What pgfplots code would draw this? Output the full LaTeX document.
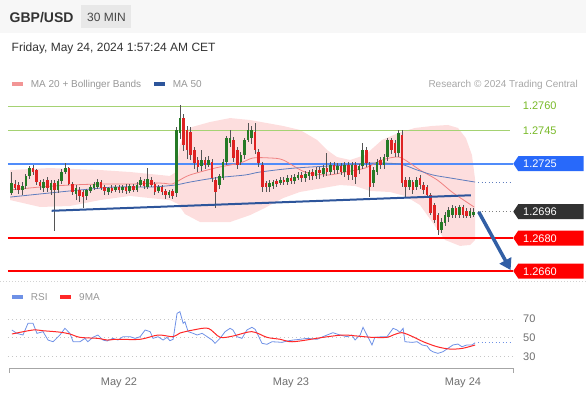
\documentclass[border=0pt]{standalone}
\usepackage{fontspec}
\setmainfont{Liberation Sans}
\usepackage{pgfplots}
\usepackage{pgfplotstable}
\pgfplotsset{compat=1.18}
\usetikzlibrary{arrows.meta}

\definecolor{candgreen}{RGB}{38,122,38}
\definecolor{candred}{RGB}{222,35,35}
\definecolor{wick}{RGB}{85,85,85}
\definecolor{bbfill}{RGB}{253,222,222}
\definecolor{ma20}{RGB}{240,130,130}
\definecolor{ma50}{RGB}{95,125,190}
\definecolor{trend}{RGB}{45,85,155}
\definecolor{arrowc}{RGB}{50,95,165}
\definecolor{lvlgreen}{RGB}{165,210,115}
\definecolor{lvlgreentxt}{RGB}{120,185,40}
\definecolor{lvlblue}{RGB}{80,140,250}
\definecolor{boxblue}{RGB}{40,105,250}
\definecolor{boxdark}{RGB}{50,50,50}
\definecolor{lvlred}{RGB}{255,0,0}
\definecolor{rsiblue}{RGB}{110,145,230}
\definecolor{rsired}{RGB}{255,40,40}
\definecolor{txtdark}{RGB}{51,51,51}
\definecolor{txtgray}{RGB}{150,150,150}
\definecolor{hdrbg}{RGB}{247,247,247}
\definecolor{tagbg}{RGB}{232,232,232}
\definecolor{ticktxt}{RGB}{110,110,110}

\newcommand{\lvlfont}{\fontsize{11}{13}\selectfont}
\newcommand{\lvlbox}[3]{%
  \fill[#1] (513.3pt,#2pt) -- ++(5pt,7.5pt) -- ++(65.2pt,0pt) -- ++(0pt,-15pt) -- ++(-65.2pt,0pt) -- cycle;
  \node[anchor=base west, inner sep=0pt, text=white, font=\lvlfont] at (523pt,#2pt-4pt) {#3};}

\pgfplotstableread{
i o h l c
-30 1.27073 1.27200 1.27061 1.27133
-29 1.27127 1.27152 1.27091 1.27103
-28 1.27121 1.27139 1.27067 1.27091
-27 1.27091 1.27140 1.27060 1.27115
-26 1.27115 1.27190 1.27100 1.27176
-25 1.27176 1.27240 1.27160 1.27224
-24 1.27224 1.27245 1.27180 1.27200
-23 1.27212 1.27220 1.27120 1.27140
-22 1.27140 1.27150 1.27090 1.27115
-21 1.27103 1.27160 1.27080 1.27140
-20 1.27150 1.27170 1.27080 1.27103
-19 1.27090 1.27150 1.27060 1.27133
-18 1.27133 1.27150 1.26842 1.27090
-17 1.27090 1.27160 1.27070 1.27145
-16 1.27145 1.27220 1.27130 1.27200
-15 1.27200 1.27255 1.27190 1.27224
-14 1.27224 1.27230 1.27120 1.27127
-13 1.27127 1.27140 1.27060 1.27079
-12 1.27067 1.27120 1.27030 1.27103
-11 1.27091 1.27110 1.27020 1.27055
-10 1.27079 1.27090 1.26982 1.27048
-9 1.27055 1.27100 1.27030 1.27091
-8 1.27085 1.27120 1.27070 1.27109
-7 1.27103 1.27140 1.27090 1.27127
-6 1.27109 1.27160 1.27100 1.27139
-5 1.27139 1.27150 1.27090 1.27103
-4 1.27109 1.27120 1.27060 1.27085
-3 1.27079 1.27110 1.27060 1.27103
-2 1.27103 1.27120 1.27070 1.27085
-1 1.27091 1.27120 1.27080 1.27109
0 1.27109 1.27120 1.27070 1.27091
1 1.27091 1.27120 1.27070 1.27109
2 1.27109 1.27125 1.27070 1.27085
3 1.27085 1.27130 1.27070 1.27115
4 1.27115 1.27130 1.27080 1.27091
5 1.27091 1.27140 1.27080 1.27121
6 1.27121 1.27170 1.27110 1.27152
7 1.27145 1.27160 1.27100 1.27115
8 1.27109 1.27224 1.27100 1.27158
9 1.27152 1.27170 1.27110 1.27121
10 1.27127 1.27140 1.27060 1.27079
11 1.27085 1.27120 1.27070 1.27109
12 1.27109 1.27120 1.27060 1.27079
13 1.27085 1.27100 1.27040 1.27061
14 1.27061 1.27090 1.27040 1.27079
15 1.27085 1.27100 1.27035 1.27055
16 1.27073 1.27470 1.27050 1.27455
17 1.27436 1.27606 1.27400 1.27527
18 1.27527 1.27550 1.27330 1.27364
19 1.27455 1.27480 1.27280 1.27333
20 1.27442 1.27470 1.27270 1.27303
21 1.27333 1.27350 1.27220 1.27255
22 1.27273 1.27290 1.27200 1.27230
23 1.27236 1.27333 1.27210 1.27273
24 1.27273 1.27290 1.27220 1.27242
25 1.27242 1.27300 1.27230 1.27273
26 1.27260 1.27280 1.27140 1.27164
27 1.27152 1.27170 1.26982 1.27079
28 1.27121 1.27190 1.27100 1.27176
29 1.27164 1.27280 1.27150 1.27260
30 1.27260 1.27420 1.27240 1.27406
31 1.27376 1.27455 1.27350 1.27406
32 1.27394 1.27410 1.27260 1.27285
33 1.27333 1.27350 1.27220 1.27242
34 1.27260 1.27320 1.27240 1.27303
35 1.27303 1.27410 1.27280 1.27394
36 1.27394 1.27497 1.27380 1.27455
37 1.27406 1.27480 1.27370 1.27455
38 1.27442 1.27497 1.27310 1.27333
39 1.27321 1.27340 1.27230 1.27255
40 1.27242 1.27260 1.27079 1.27109
41 1.27133 1.27150 1.27079 1.27109
42 1.27109 1.27150 1.27080 1.27133
43 1.27115 1.27155 1.27100 1.27139
44 1.27145 1.27160 1.27110 1.27127
45 1.27133 1.27170 1.27120 1.27152
46 1.27152 1.27170 1.27120 1.27139
47 1.27139 1.27180 1.27120 1.27164
48 1.27164 1.27180 1.27130 1.27145
49 1.27145 1.27190 1.27130 1.27170
50 1.27164 1.27200 1.27150 1.27182
51 1.27182 1.27200 1.27140 1.27164
52 1.27164 1.27210 1.27140 1.27188
53 1.27176 1.27215 1.27150 1.27200
54 1.27200 1.27220 1.27150 1.27176
55 1.27176 1.27230 1.27160 1.27212
56 1.27212 1.27230 1.27160 1.27194
57 1.27188 1.27240 1.27170 1.27224
58 1.27224 1.27315 1.27180 1.27200
59 1.27200 1.27260 1.27180 1.27242
60 1.27242 1.27260 1.27190 1.27212
61 1.27212 1.27255 1.27190 1.27236
62 1.27236 1.27255 1.27180 1.27200
63 1.27200 1.27260 1.27170 1.27242
64 1.27242 1.27260 1.27150 1.27182
65 1.27182 1.27260 1.27150 1.27242
66 1.27242 1.27260 1.27130 1.27170
67 1.27212 1.27250 1.27190 1.27236
68 1.27236 1.27376 1.27220 1.27333
69 1.27333 1.27350 1.27230 1.27255
70 1.27242 1.27260 1.27048 1.27109
71 1.27133 1.27230 1.27110 1.27212
72 1.27200 1.27280 1.27180 1.27260
73 1.27273 1.27290 1.27220 1.27242
74 1.27242 1.27310 1.27220 1.27291
75 1.27291 1.27410 1.27270 1.27394
76 1.27394 1.27410 1.27310 1.27333
77 1.27376 1.27394 1.27290 1.27315
78 1.27315 1.27455 1.27290 1.27436
79 1.27424 1.27455 1.27110 1.27133
80 1.27152 1.27170 1.27048 1.27109
81 1.27109 1.27170 1.27090 1.27152
82 1.27139 1.27155 1.27070 1.27091
83 1.27109 1.27170 1.27090 1.27152
84 1.27164 1.27185 1.27100 1.27121
85 1.27121 1.27140 1.27070 1.27091
86 1.27109 1.27120 1.27040 1.27061
87 1.27061 1.27070 1.26940 1.26952
88 1.27000 1.27015 1.26890 1.26909
89 1.26939 1.26955 1.26818 1.26848
90 1.26848 1.26920 1.26830 1.26897
91 1.26891 1.26960 1.26870 1.26939
92 1.26927 1.26990 1.26900 1.26970
93 1.26939 1.27000 1.26920 1.26982
94 1.26982 1.26995 1.26920 1.26939
95 1.26939 1.27000 1.26920 1.26988
96 1.26988 1.27000 1.26920 1.26939
97 1.26964 1.26980 1.26920 1.26933
98 1.26933 1.26980 1.26920 1.26964
99 1.26940 1.26980 1.26930 1.26960
}\candles

\begin{document}
\begin{tikzpicture}
\path[use as bounding box] (0pt,0pt) rectangle (586pt,394pt);
\fill[hdrbg] (0pt,361pt) rectangle (586pt,394pt);
\fill[tagbg] (80.7pt,366pt) rectangle (130.7pt,389pt);
\node[anchor=base west, inner sep=0pt, font=\fontsize{14}{16}\selectfont\bfseries, text=txtdark] at (9.5pt,371.3pt) {GBP/USD};
\node[anchor=base west, inner sep=0pt, font=\fontsize{12}{14}\selectfont, text=txtdark!90] at (87pt,372.5pt) {30 MIN};
\node[anchor=base west, inner sep=0pt, font=\fontsize{12}{14}\selectfont, text=txtdark] at (11.5pt,342.5pt) {Friday, May 24, 2024 1:57:24 AM CET};
% legend
\fill[ma20!85] (12pt,308pt) rectangle (23pt,312pt);
\node[anchor=base west, inner sep=0pt, font=\fontsize{10}{12}\selectfont, text=txtgray] at (30.7pt,306.4pt) {MA 20 + Bollinger Bands};
\fill[trend] (154pt,308pt) rectangle (165pt,312pt);
\node[anchor=base west, inner sep=0pt, font=\fontsize{10}{12}\selectfont, text=txtgray] at (172.7pt,306.4pt) {MA 50};
\node[anchor=base east, inner sep=0pt, font=\fontsize{10}{12}\selectfont, text=txtgray!85] at (578pt,306.4pt) {Research © 2024 Trading Central};

\begin{axis}[at={(8pt,109pt)}, anchor=south west, scale only axis,
  width=506pt, height=195pt, xmin=-30.98, xmax=110.24,
  ymin=1.265152, ymax=1.276970, hide axis, clip=false]
% Bollinger band
\addplot[fill=bbfill, draw=none] coordinates {
(-30.4,1.27212) (-19.3,1.27224) (-5.3,1.27212) (3.1,1.27200) (8.7,1.27188) (14.2,1.27176) (15.9,1.27200) (17.0,1.27364) (18.4,1.27442) (20.4,1.27473) (25.4,1.27503) (31.0,1.27527) (36.6,1.27515) (45.8,1.27479) (50.5,1.27455) (55.3,1.27394) (58.1,1.27333) (60.8,1.27291) (64.5,1.27273) (68.7,1.27303) (73.4,1.27394) (77.9,1.27436) (82.6,1.27467) (87.4,1.27479) (91.8,1.27485) (94.6,1.27467) (96.8,1.27406) (98.5,1.27303) (99.4,1.27152)
(99.4,1.26788) (98.0,1.26758) (95.2,1.26752) (91.0,1.26788) (87.4,1.26897) (84.0,1.27000) (79.8,1.27055) (75.6,1.27079) (70.1,1.27085) (65.9,1.27115) (61.7,1.27121) (55.3,1.27097) (50.5,1.27079) (45.8,1.27042) (40.7,1.26982) (36.6,1.26939) (31.0,1.26897) (22.6,1.26897) (18.4,1.26945) (16.5,1.27006) (14.2,1.27030) (8.7,1.27042) (3.1,1.27055) (-5.3,1.27030) (-13.7,1.26994) (-22.0,1.26988) (-30.4,1.27030)
} -- cycle;
% levels
\addplot[lvlgreen, line width=1pt] coordinates {(-30.98,1.2760) (109.1,1.2760)};
\addplot[lvlgreen, line width=1pt] coordinates {(-30.98,1.2745) (109.1,1.2745)};
\addplot[lvlblue, line width=1.6pt] coordinates {(-30.98,1.2725) (110.05,1.2725)};
\addplot[lvlred, line width=2pt] coordinates {(-30.98,1.2680) (110.05,1.2680)};
\addplot[lvlred, line width=2pt] coordinates {(-30.98,1.2660) (110.05,1.2660)};
% moving averages
\addplot[ma20, line width=0.8pt, smooth] coordinates {
(-30.4,1.27091) (-22.0,1.27109) (-13.7,1.27121) (-5.3,1.27127) (3.1,1.27127) (11.4,1.27133) (14.8,1.27127) (17.0,1.27152) (19.8,1.27182) (26.8,1.27224) (33.8,1.27255) (37.4,1.27285) (42.1,1.27285) (45.8,1.27273) (51.9,1.27200) (58.3,1.27182) (63.1,1.27200) (68.7,1.27224) (73.4,1.27273) (77.9,1.27291) (80.7,1.27261) (84.0,1.27212) (88.8,1.27152) (92.9,1.27079) (96.6,1.27024) (99.1,1.26988)};
\addplot[ma50, line width=0.8pt, smooth] coordinates {
(-30.4,1.27048) (-19.3,1.27073) (-10.9,1.27091) (-1.1,1.27109) (8.7,1.27109) (15.6,1.27121) (19.8,1.27139) (26.8,1.27164) (35.2,1.27182) (39.4,1.27200) (49.1,1.27224) (63.1,1.27242) (70.1,1.27255) (78.4,1.27248) (83.2,1.27212) (87.6,1.27182) (92.4,1.27164) (99.4,1.27139)};
\addplot[ma50, line width=0.9pt, dash pattern=on 1pt off 2.5pt] coordinates {(100.2,1.27139) (109.8,1.27139)};
\addplot[gray, line width=0.9pt, dash pattern=on 1pt off 2.5pt] coordinates {(100.2,1.2696) (109.8,1.2696)};
% candles: wicks
\addplot[draw=none, mark=none, error bars/.cd, y dir=both, y explicit, error mark=none,
  error bar style={line width=0.7pt, draw=wick}]
  table[x=i, y expr={(\thisrow{h}+\thisrow{l})/2}, y error expr={(\thisrow{h}-\thisrow{l})/2}] {\candles};
% bodies up
\addplot[draw=none, mark=none, restrict expr to domain={\thisrow{c}-\thisrow{o}}{0:1},
  error bars/.cd, y dir=both, y explicit, error mark=none,
  error bar style={line width=2.6pt, draw=candgreen}]
  table[x=i, y expr={(\thisrow{o}+\thisrow{c})/2}, y error expr={abs(\thisrow{c}-\thisrow{o})/2}] {\candles};
% bodies down
\addplot[draw=none, mark=none, restrict expr to domain={\thisrow{o}-\thisrow{c}}{0.000001:1},
  error bars/.cd, y dir=both, y explicit, error mark=none,
  error bar style={line width=2.6pt, draw=candred}]
  table[x=i, y expr={(\thisrow{o}+\thisrow{c})/2}, y error expr={abs(\thisrow{c}-\thisrow{o})/2}] {\candles};
% trend line
\addplot[trend, line width=2pt] coordinates {(-18.8,1.26965) (98.2,1.27059)};
% arrow
\addplot[arrowc, line width=3.5pt, -{Triangle[width=13pt,length=11pt]}] coordinates {(100.4,1.26958) (109.3,1.26606)};
\end{axis}

% level labels
\node[anchor=base west, inner sep=0pt, font=\lvlfont, text=lvlgreentxt] at (522.7pt,284pt) {1.2760};
\node[anchor=base west, inner sep=0pt, font=\lvlfont, text=lvlgreentxt] at (522.7pt,259.3pt) {1.2745};
\lvlbox{boxblue}{230.25}{1.2725}
\lvlbox{boxdark}{182.4}{1.2696}
\lvlbox{lvlred}{156}{1.2680}
\lvlbox{lvlred}{123}{1.2660}

% separator
\draw[gray!35, line width=0.8pt, dash pattern=on 1pt off 2pt] (0pt,113pt) -- (586pt,113pt);
% RSI legend
\fill[rsiblue] (12pt,94.7pt) rectangle (23pt,98.7pt);
\node[anchor=base west, inner sep=0pt, font=\fontsize{10}{12}\selectfont, text=txtgray] at (30.7pt,93.1pt) {RSI};
\fill[rsired] (60pt,94.7pt) rectangle (71pt,98.7pt);
\node[anchor=base west, inner sep=0pt, font=\fontsize{10}{12}\selectfont, text=txtgray] at (79pt,93.1pt) {9MA};

\begin{axis}[at={(8pt,28pt)}, anchor=south west, scale only axis,
  width=506pt, height=56pt, xmin=-30.98, xmax=110.24, ymin=19.6, ymax=79.8,
  axis line style={draw=none}, tick style={draw=none},
  ytick={30,50,70}, yticklabel pos=right, ymajorgrids,
  grid style={gray!45, line width=0.8pt, dash pattern=on 1pt off 3pt},
  xtick={0,48,96}, xticklabels={May 22,May 23,May 24},
  /pgf/number format/assume math mode=true,
  yticklabel style={anchor=west, inner sep=0pt, xshift=9pt, font=\fontsize{11}{13}\selectfont, text=ticktxt},
  xticklabel style={anchor=base, inner sep=0pt, yshift=-19.5pt, font=\fontsize{11}{13}\selectfont, text=ticktxt},
  clip=false]
\addplot[rsiblue, line width=0.8pt] coordinates {
(-29.9,58.3) (-28.5,54.7) (-26.8,52.9) (-25.4,65.5) (-24.0,65.5) (-22.9,54.7) (-21.2,56.5) (-19.8,47.5) (-18.4,45.7) (-16.5,52.9) (-15.1,60.1) (-13.7,54.7) (-12.8,45.7) (-10.9,45.7) (-9.5,49.3) (-8.7,45.7) (-7.3,50.4) (-5.9,52.9) (-4.5,47.5) (-3.3,46.5) (-1.7,49.3) (-0.3,47.5) (1.1,51.1) (3.1,51.1) (4.5,49.3) (5.9,51.1) (7.3,58.3) (8.7,56.5) (9.5,49.3) (10.9,51.1) (12.3,47.5) (13.4,50.4) (14.2,46.8) (15.1,48.3) (16.2,76.2) (17.0,78.0) (17.9,65.5) (18.4,67.2) (19.3,56.5) (20.7,54.7) (21.8,52.9) (23.2,54.7) (24.6,51.1) (26.0,47.5) (26.8,44.0) (28.2,49.3) (29.6,56.5) (31.0,60.1) (31.8,58.3) (32.9,51.1) (34.3,49.3) (35.7,58.3) (37.1,61.2) (38.0,59.0) (38.8,52.9) (39.9,44.0) (41.3,42.9) (42.7,45.7) (44.1,45.4) (45.5,45.0) (46.9,46.5) (48.6,47.5) (50.5,48.3) (52.5,49.3) (55.3,48.3) (56.9,51.1) (59.7,55.4) (61.7,52.9) (63.6,51.1) (65.0,52.9) (65.9,47.5) (67.3,52.9) (68.1,61.2) (69.2,52.9) (70.6,42.2) (71.4,50.4) (73.4,51.1) (74.8,51.1) (75.6,55.4) (76.5,60.1) (77.6,58.3) (78.4,55.8) (79.3,60.1) (79.8,45.7) (81.8,45.0) (83.2,45.7) (84.6,42.2) (86.0,41.1) (86.8,36.8) (87.6,34.9) (89.0,33.2) (90.4,34.9) (91.8,38.6) (93.2,42.2) (94.6,43.2) (95.7,40.3) (97.1,42.2) (98.5,42.2) (99.4,44.6)};
\addplot[rsiblue, line width=0.9pt, dash pattern=on 1pt off 2.5pt] coordinates {(100.2,44.6) (109.8,44.6)};
\addplot[rsired, line width=1pt, smooth] coordinates {
(-29.9,54.0) (-24.0,58.3) (-21.2,57.5) (-16.5,56.0) (-13.7,54.0) (-10.9,50.4) (-5.9,49.3) (-3.3,47.5) (-0.7,48.3) (5.9,48.3) (10.9,52.9) (15.1,51.1) (17.0,55.0) (20.7,58.3) (24.9,60.1) (28.2,50.5) (31.8,51.8) (37.1,56.5) (41.3,50.4) (45.0,48.3) (47.7,45.7) (50.5,46.5) (53.5,48.3) (56.9,50.4) (62.5,52.9) (66.5,51.8) (70.6,50.4) (74.8,50.4) (76.5,52.9) (79.0,55.4) (82.0,51.1) (84.9,45.7) (88.8,40.3) (92.4,37.8) (95.9,38.6) (99.4,42.2)};
\end{axis}
% bottom axis line
\draw[gray!70, line width=1pt] (9pt,21pt) -- (9pt,26pt) -- (513pt,26pt) -- (513pt,21pt);
\end{tikzpicture}
\end{document}
